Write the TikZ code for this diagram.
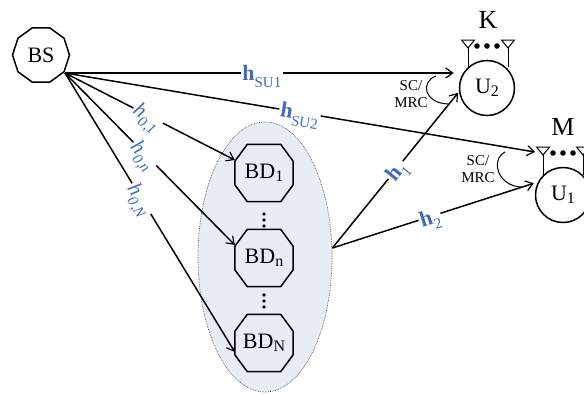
\documentclass[tikz,border=0pt]{standalone}
\usepackage{fontspec}
\setmainfont{Liberation Serif}
\usetikzlibrary{arrows.meta,shapes.geometric}
\definecolor{chblue}{RGB}{66,106,186}
\definecolor{bdfill}{RGB}{232,236,245}
\definecolor{rimgray}{RGB}{80,80,80}
\newcommand\fsz[1]{\fontsize{#1}{#1}\selectfont}
% subscripts of node names
\newcommand\bsub[1]{\raisebox{-0.15em}{\fsz{16}#1}}
% subscripts of channel labels, kept out of the label height
\newcommand\csub[1]{\smash{\raisebox{-0.3em}{\fsz{15}#1}}}
% octagonal outline round a backscatter device
\newcommand\bdoutline[1]{%
  \draw[outl] ([xshift=12.5pt]#1.north west) -- ([xshift=-12.5pt]#1.north east)
    -- ([yshift=-17pt]#1.north east) -- ([yshift=17pt]#1.south east)
    -- ([xshift=-12.5pt]#1.south east) -- ([xshift=12.5pt]#1.south west)
    -- ([yshift=17pt]#1.south west) -- ([yshift=-17pt]#1.north west) -- cycle;}
\tikzset{
  outl/.style={line width=1.5pt,line join=miter},
  link/.style={line width=1.5pt,-{Straight Barb[length=7pt,width=10pt,line width=1.2pt]}},
  chlabel/.style={text=chblue,fill=white,inner sep=1.5pt,font=\fsz{22}},
  fwlabel/.style={chlabel,sloped,font=\fsz{21}},
  bsnode/.style={regular polygon,regular polygon sides=10,draw,line width=1.5pt,
    minimum size=57pt,inner sep=0pt,font=\fsz{22}},
  bdbox/.style={rectangle,minimum width=58pt,minimum height=57pt,inner sep=0pt,font=\fsz{22}},
  bdgroup/.style={ellipse,draw=rimgray,densely dotted,line width=0.7pt,fill=bdfill,
    minimum width=134pt,minimum height=270pt,inner sep=0pt},
  unit/.style={circle,draw,line width=1.5pt,minimum size=55pt,inner sep=0pt,font=\fsz{22}},
  antline/.style={line width=1pt},
  arcline/.style={line width=1pt},
  scm/.style={font=\fontsize{15}{17}\selectfont,align=center,inner sep=0pt},
  count/.style={font=\fsz{26},inner sep=0pt}
}
\begin{document}
\begin{tikzpicture}[x=1pt,y=-1pt]
\useasboundingbox (0,0) rectangle (584,394);

% group of backscatter devices
\node[bdgroup] (bdg) at (265,257) {};
\node[bdbox] (bd1) at (264,173) {BD\bsub{1}};
\node[bdbox] (bdn) at (264,258) {BD\bsub{n}};
\node[bdbox] (bdN) at (264,343) {BD\bsub{N}};
\foreach \b in {bd1,bdn,bdN} {\bdoutline{\b}}
\foreach \yy in {214,220,226,295,301,307} \fill (264,\yy) circle (1.9pt);

% base station
\node[bsnode] (bs) at (41,55) {BS};
\coordinate (bso) at (65,73);

% users with their antenna arrays
\node[unit] (u2) at (487,88) {U\bsub{2}};
\node[unit] (u1) at (563,195) {U\bsub{1}};
\node[count] (k) at (488,20) {K};
\node[count] (m) at (563,127) {M};
\coordinate (k1) at (468,48);
\coordinate (k2) at (508,48);
\coordinate (m1) at (543,155);
\coordinate (m2) at (583,155);
\foreach \t in {k1,k2,m1,m2}
  \draw[antline] (\t) -- ++(-6.5,-8) -- ++(13,0) -- cycle;
\draw[antline] (k1) -- (k1 |- u2.133);
\draw[antline] (k2) -- (k2 |- u2.47);
\draw[antline] (m1) -- (m1 |- u1.135);
\draw[antline] (m2) -- (m2 |- u1.45);
\foreach \xx in {477,487,497} \fill (\xx,46) circle (2.8pt);
\foreach \xx in {553,563,573} \fill (\xx,153) circle (2.8pt);

% direct links
\draw[link,shorten >=5pt] (bso) -- (u2.west |- bso)
  node[chlabel,pos=0.5] {\textbf{h}\csub{SU1}};
\draw[link] (bso) -- ([shift={(-8pt,3pt)}]m1)
  node[chlabel,sloped,pos=0.5] {\textbf{h}\csub{SU2}};

% forward links to the devices
\draw[link] (bso) -- ([yshift=13pt]bd1.west)
  node[fwlabel,pos=0.49,rotate=-10] {\textit{h}\csub{\textit{0,1}}};
\draw[link] (bso) -- ([yshift=13pt]bdn.west)
  node[fwlabel,pos=0.47,rotate=-5] {\textit{h}\csub{\textit{0,n}}};
\draw[link] (bso) -- ([yshift=-9pt]bdN.west)
  node[fwlabel,pos=0.45] {\textit{h}\csub{\textit{0,N}}};

% backscatter links
\coordinate (bdo) at ([yshift=9pt]bdg.east);
\draw[link,shorten >=1pt] (bdo) -- ([yshift=-4pt]u2.west)
  node[chlabel,sloped,pos=0.5] {\textbf{h}\csub{1}};
\draw[link,shorten >=1pt] (bdo) -- ([yshift=12pt]u1.west)
  node[chlabel,sloped,pos=0.48] {\textbf{h}\csub{2}};

% combining marks
\node[scm] (scm2) at (411,94) {SC/\\MRC};
\node[scm] (scm1) at (478,169) {SC/\\MRC};
\draw[arcline] (436,76) .. controls (420,82) and (424,103) .. (448,104);
\draw[arcline] (505,152) .. controls (490,160) and (498,186) .. (521,187);
\end{tikzpicture}
\end{document}
